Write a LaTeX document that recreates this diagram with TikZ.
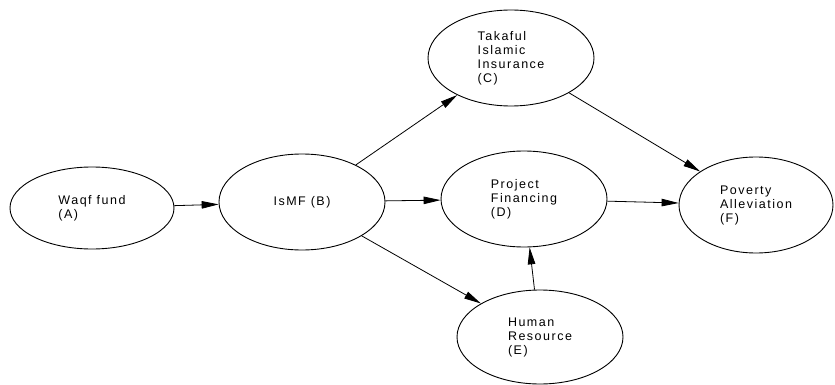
\documentclass[tikz,border=0pt]{standalone}
\usepackage{fontspec}
\setmainfont{Liberation Sans}[LetterSpace=12]
\usetikzlibrary{arrows.meta,shapes.geometric}

\begin{document}
\begin{tikzpicture}[x=1pt, y=-1pt,
    every node/.style={font=\fontsize{12.5}{14}\selectfont},
    bubble/.style={draw, ellipse, line width=0.9pt, inner sep=0pt, align=left},
    arr/.style={line width=0.8pt, -{Triangle[length=17pt,width=7.5pt]}}]
    \useasboundingbox (0,0) rectangle (835,385);
    \node [bubble, minimum width=164, minimum height=82] (A) at (92,208) {Waqf fund\\(A)};
    \node [bubble, minimum width=166, minimum height=96] (B) at (302,202) {IsMF (B)};
    \node [bubble, minimum width=166, minimum height=96] (C) at (511,58) {Takaful\\Islamic\\Insurance\\(C)};
    \node [bubble, minimum width=166, minimum height=96] (D) at (524,199) {Project\\Financing\\(D)};
    \node [bubble, minimum width=166, minimum height=94] (E) at (540,337) {Human\\Resource\\(E)};
    \node [bubble, minimum width=154, minimum height=96] (F) at (756,205) {Poverty\\Alleviation\\(F)};
    \foreach \s/\t in {A/B,B/C,B/D,B/E,C/F,D/F,E/D}
        \draw [arr] (\s) -- (\t);
\end{tikzpicture}
\end{document}
